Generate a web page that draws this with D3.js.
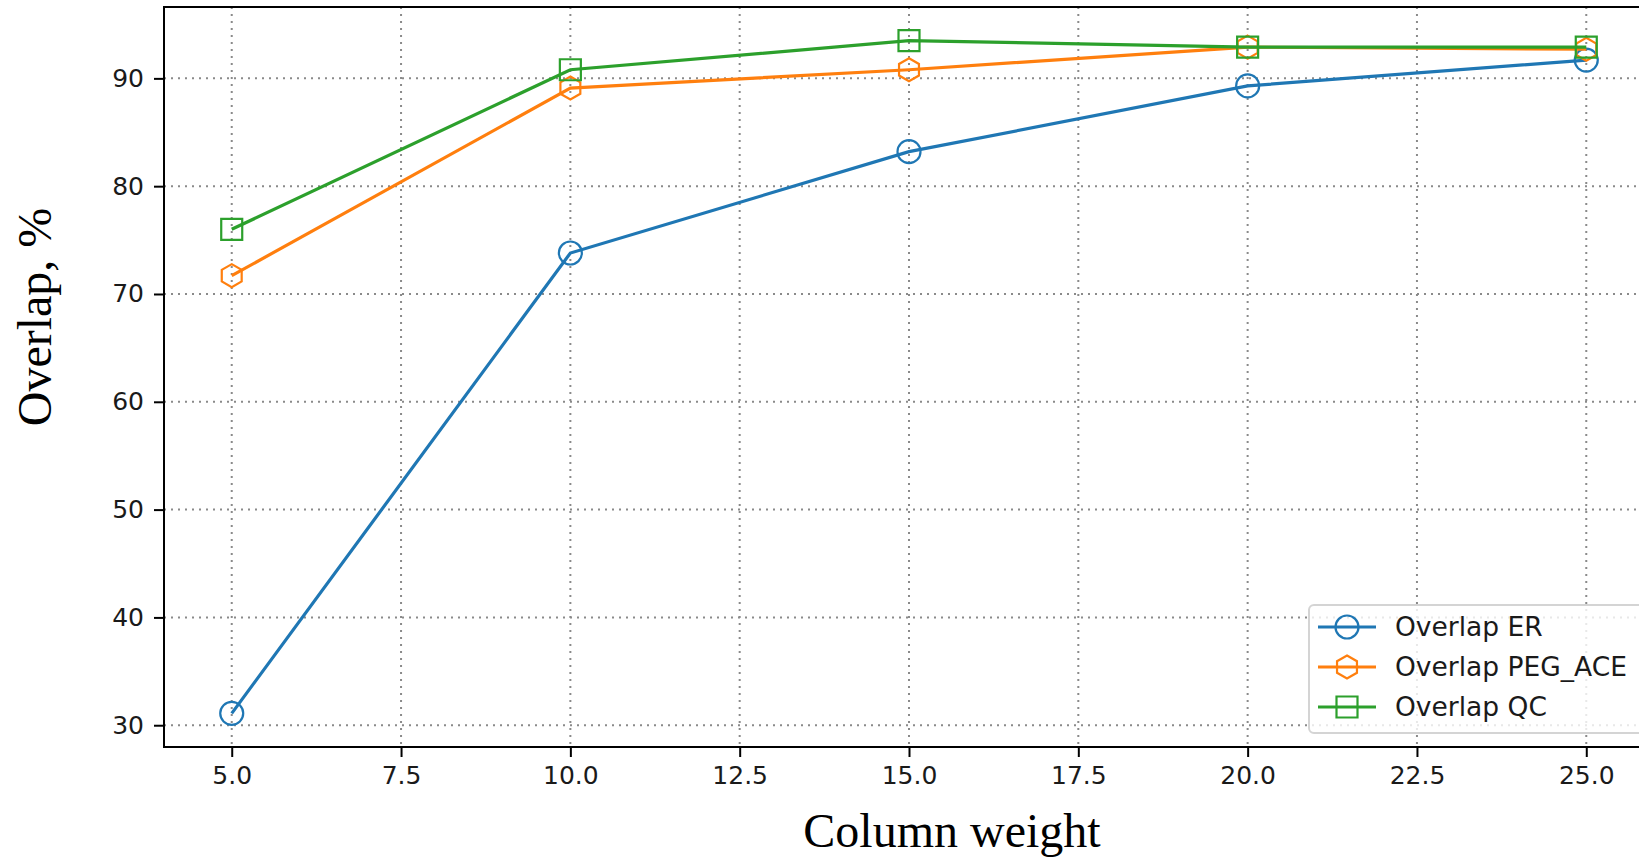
<!DOCTYPE html>
<html>
<head>
<meta charset="utf-8">
<script src="https://cdn.jsdelivr.net/npm/d3@7"></script>
<style>
	body { margin: 0; background: #fff; }
	svg { display: block; }
	.tick text { font-family: "DejaVu Sans", sans-serif; font-size: 25px; fill: #1a1a1a; }
	.label { font-family: "Liberation Serif", "Times New Roman", serif; font-size: 48px; fill: #000; }
	.legend text { font-family: "DejaVu Sans", sans-serif; font-size: 26.5px; fill: #1a1a1a; }
</style>
</head>
<body>
<svg id="chart" width="1639" height="862"></svg>
<script>
// values
var columnWeight = [5, 10, 15, 20, 25];
var overlapER = [31.1, 73.8, 83.2, 89.3, 91.7];
var overlapPEG = [71.7, 89.1, 90.8, 92.9, 92.7];
var overlapQC = [76.0, 90.8, 93.5, 92.9, 92.9];
var seriesNames = ["Overlap ER", "Overlap PEG_ACE", "Overlap QC"];
var seriesColors = ["#1f77b4", "#ff7f0e", "#2ca02c"];
var seriesMarkers = ["circle", "hexagon", "square"];
var xTicks = [5, 7.5, 10, 12.5, 15, 17.5, 20, 22.5, 25];
var yTicks = [30, 40, 50, 60, 70, 80, 90];

var series = [overlapER, overlapPEG, overlapQC].map(function(vals, i) {
	return {
		name: seriesNames[i],
		color: seriesColors[i],
		marker: seriesMarkers[i],
		points: vals.map(function(v, j) { return { x: columnWeight[j], y: v }; })
	};
});

var svg = d3.select("#chart");

// plot box (the right side is cut off by the picture edge, like the original)
var box = { left: 164, top: 7, right: 1654, bottom: 747 };

// matplotlib style 5% margins
function padded(ext) {
	var m = 0.05 * (ext[1] - ext[0]);
	return [ext[0] - m, ext[1] + m];
}
var allY = d3.merge([overlapER, overlapPEG, overlapQC]);

var x = d3.scaleLinear().domain(padded(d3.extent(columnWeight))).range([box.left, box.right]);
var y = d3.scaleLinear().domain(padded(d3.extent(allY))).range([box.bottom, box.top]);

// grid
var grid = svg.append("g").attr("class", "grid")
	.style("stroke", "#8a8a8a")
	.style("stroke-width", 2)
	.style("stroke-dasharray", "2,5");

grid.selectAll("line.v")
	.data(xTicks)
	.enter().append("line")
	.attr("class", "v")
	.attr("x1", d => x(d)).attr("x2", d => x(d))
	.attr("y1", box.top).attr("y2", box.bottom);

grid.selectAll("line.h")
	.data(yTicks)
	.enter().append("line")
	.attr("class", "h")
	.attr("x1", box.left).attr("x2", box.right)
	.attr("y1", d => y(d)).attr("y2", d => y(d));

// axes
var xAxis = d3.axisBottom(x)
	.tickValues(xTicks)
	.tickFormat(d3.format(".1f"))
	.tickSize(10)
	.tickPadding(9);

var yAxis = d3.axisLeft(y)
	.tickValues(yTicks)
	.tickFormat(d3.format("d"))
	.tickSize(10)
	.tickPadding(10);

var gx = svg.append("g")
	.attr("transform", "translate(0," + box.bottom + ")")
	.call(xAxis);
var gy = svg.append("g")
	.attr("transform", "translate(" + box.left + ",0)")
	.call(yAxis);

[gx, gy].forEach(function(g) {
	g.select(".domain").remove();
	g.selectAll(".tick line").style("stroke", "#000").style("stroke-width", 2);
});

// spines
svg.append("rect")
	.attr("x", box.left).attr("y", box.top)
	.attr("width", box.right - box.left).attr("height", box.bottom - box.top)
	.style("fill", "none")
	.style("stroke", "#000")
	.style("stroke-width", 2);

// markers
function markerPath(type, r) {
	if (type === "circle") {
		return d3.symbol().type(d3.symbolCircle).size(Math.PI * r * r)();
	}
	if (type === "square") {
		return "M" + (-r) + "," + (-r) + "H" + r + "V" + r + "H" + (-r) + "Z";
	}
	var pts = d3.range(6).map(function(k) {
		var a = -Math.PI / 2 + k * Math.PI / 3;
		return [r * Math.cos(a), r * Math.sin(a)];
	});
	return d3.line()(pts) + "Z";
}

var line = d3.line()
	.x(d => x(d.x))
	.y(d => y(d.y));

var groups = svg.append("g").attr("class", "series")
	.selectAll("g")
	.data(series)
	.enter().append("g");

groups.append("path")
	.attr("d", d => line(d.points))
	.style("fill", "none")
	.style("stroke", d => d.color)
	.style("stroke-width", 3.2);

groups.each(function(s) {
	d3.select(this).selectAll("path.marker")
		.data(s.points)
		.enter().append("path")
		.attr("class", "marker")
		.attr("transform", d => "translate(" + x(d.x) + "," + y(d.y) + ")")
		.attr("d", markerPath(s.marker, s.marker === "square" ? 10.5 : 11.5))
		.style("fill", "none")
		.style("stroke", s.color)
		.style("stroke-width", 2.2);
});

// legend
var legend = svg.append("g").attr("class", "legend");
legend.append("rect")
	.attr("x", 1309).attr("y", 605)
	.attr("width", box.right - 10 - 1309).attr("height", 128)
	.attr("rx", 5)
	.style("fill", "rgba(255,255,255,0.8)")
	.style("stroke", "#d4d4d4")
	.style("stroke-width", 2);

var items = legend.selectAll("g.item")
	.data(series)
	.enter().append("g")
	.attr("class", "item")
	.attr("transform", (d, i) => "translate(1347," + (627 + i * 40) + ")");

items.append("line")
	.attr("x1", -29).attr("x2", 29)
	.style("stroke", d => d.color)
	.style("stroke-width", 3.2);

items.append("path")
	.attr("d", d => markerPath(d.marker, d.marker === "square" ? 10.5 : 11.5))
	.style("fill", "none")
	.style("stroke", d => d.color)
	.style("stroke-width", 2.2);

items.append("text")
	.attr("x", 48)
	.attr("dy", "0.35em")
	.text(d => d.name);

// axis titles
svg.append("text")
	.attr("class", "label")
	.attr("x", 952).attr("y", 847)
	.attr("text-anchor", "middle")
	.text("Column weight");

svg.append("text")
	.attr("class", "label")
	.attr("transform", "translate(51,317) rotate(-90)")
	.attr("text-anchor", "middle")
	.text("Overlap, %");
</script>
</body>
</html>
